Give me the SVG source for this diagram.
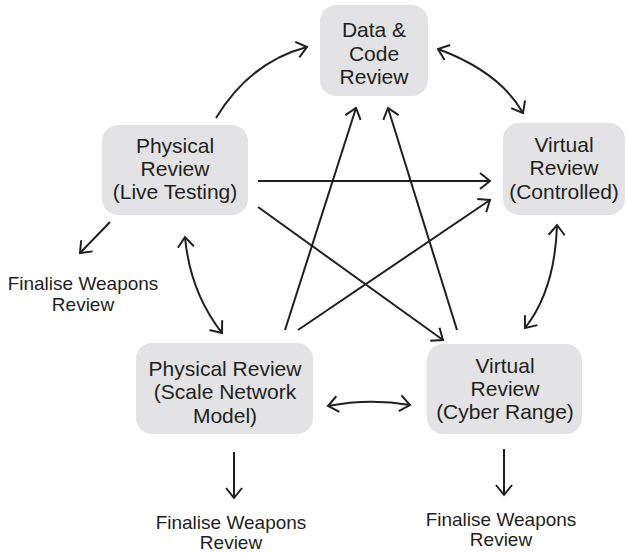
<svg xmlns="http://www.w3.org/2000/svg" width="626" height="553" viewBox="0 0 626 553">
<style>
.box{fill:#e3e3e5;stroke:none}
.nt{font-family:"Liberation Sans",Arial,sans-serif;font-size:21px;fill:#231f20;text-anchor:middle}
.lt{font-family:"Liberation Sans",Arial,sans-serif;font-size:19px;fill:#231f20;text-anchor:middle}
.c{fill:none;stroke:#231f20;stroke-width:2}
</style>
<defs>
<marker id="ah" viewBox="-12 -10 14 20" markerWidth="14" markerHeight="20" refX="0" refY="0" markerUnits="userSpaceOnUse" orient="auto-start-reverse">
<path d="M-10,-8 L0,0 L-10,8" fill="none" stroke="#231f20" stroke-width="2"/>
</marker>
</defs>
<rect width="626" height="553" fill="#ffffff"/>
<g id="connectors">
<path class="c" d="M216,118 Q250,62 307,47" marker-end="url(#ah)"/>
<path class="c" d="M438,49 Q500,72 523,113" marker-start="url(#ah)" marker-end="url(#ah)"/>
<path class="c" d="M185,237 Q190,292 222,333" marker-start="url(#ah)" marker-end="url(#ah)"/>
<path class="c" d="M557,225 Q555,290 525,328" marker-start="url(#ah)" marker-end="url(#ah)"/>
<path class="c" d="M328,406 Q369,398 410,405" marker-start="url(#ah)" marker-end="url(#ah)"/>
<path class="c" d="M258,181 L490,181" marker-end="url(#ah)"/>
<path class="c" d="M258,207 L443,340" marker-end="url(#ah)"/>
<path class="c" d="M285,330 L356,108" marker-end="url(#ah)"/>
<path class="c" d="M298,330 L490,200" marker-end="url(#ah)"/>
<path class="c" d="M457,330 L388,108" marker-end="url(#ah)"/>
<path class="c" d="M110,222 L80,253" marker-end="url(#ah)"/>
<path class="c" d="M234,452 L234,498" marker-end="url(#ah)"/>
<path class="c" d="M504,449 L504,495" marker-end="url(#ah)"/>
</g>
<g id="data-code">
<rect class="box" x="320" y="5" width="108" height="91" rx="16"/>
<text class="nt" x="374" y="37">Data &amp;</text>
<text class="nt" x="374" y="61">Code</text>
<text class="nt" x="374" y="84">Review</text>
</g>
<g id="physical-live">
<rect class="box" x="102" y="125" width="146" height="90" rx="16"/>
<text class="nt" x="175" y="153">Physical</text>
<text class="nt" x="175" y="176">Review</text>
<text class="nt" x="175" y="199">(Live Testing)</text>
</g>
<g id="virtual-controlled">
<rect class="box" x="503" y="123" width="122" height="92" rx="16"/>
<text class="nt" x="564" y="152">Virtual</text>
<text class="nt" x="564" y="175">Review</text>
<text class="nt" x="564" y="199">(Controlled)</text>
</g>
<g id="physical-scale">
<rect class="box" x="136" y="343" width="177" height="91" rx="16"/>
<text class="nt" x="225" y="376">Physical Review</text>
<text class="nt" x="225" y="399">(Scale Network</text>
<text class="nt" x="225" y="423">Model)</text>
</g>
<g id="virtual-cyber">
<rect class="box" x="427" y="344" width="155" height="90" rx="16"/>
<text class="nt" x="505" y="373">Virtual</text>
<text class="nt" x="505" y="396">Review</text>
<text class="nt" x="505" y="419">(Cyber Range)</text>
</g>
<g id="label-left">
<text class="lt" x="83" y="290">Finalise Weapons</text>
<text class="lt" x="83" y="311">Review</text>
</g>
<g id="label-scale">
<text class="lt" x="231" y="529">Finalise Weapons</text>
<text class="lt" x="231" y="549">Review</text>
</g>
<g id="label-cyber">
<text class="lt" x="501" y="526">Finalise Weapons</text>
<text class="lt" x="501" y="546">Review</text>
</g>
</svg>
